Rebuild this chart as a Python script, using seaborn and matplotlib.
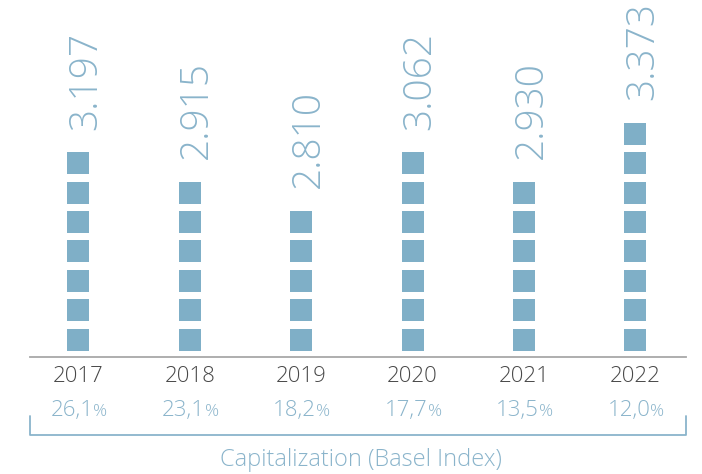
import pandas as pd
import matplotlib.pyplot as plt
import seaborn as sns

sns.set_style("white")
plt.rcParams['font.family'] = ['Open Sans', 'DejaVu Sans']

years = ['2017', '2018', '2019', '2020', '2021', '2022']
values = ['3.197', '2.915', '2.810', '3.062', '2.930', '3.373']
squares = [7, 6, 5, 7, 6, 8]          # number of blocks drawn per year
basel = ['26,1', '23,1', '18,2', '17,7', '13,5', '12,0']

blue = '#7fafc7'
text_blue = '#8ab4cb'
grey = '#484848'

# one row per block
rows = []
for y, n in zip(years, squares):
    for k in range(n):
        rows.append({'year': y, 'level': k})
df = pd.DataFrame(rows)

fig = plt.figure(figsize=(7.02, 4.74), dpi=100)
ax = fig.add_axes([30 / 702, 117 / 474, 656 / 702, 357 / 474])

side = 23 * 72 / 100  # block side in points
sns.scatterplot(data=df, x='year', y='level', marker='s', s=side ** 2,
                color=blue, linewidth=0, ax=ax, legend=False)

ax.set_xlim(-0.435, 5.455)
ax.set_ylim(-0.593, -0.593 + 357 / 29.4)

for side_name in ['top', 'left', 'right']:
    ax.spines[side_name].set_visible(False)
ax.spines['bottom'].set_color('#a8a8a8')
ax.spines['bottom'].set_linewidth(1.3)
ax.set_xticks([])
ax.set_yticks([])
ax.set_xlabel('')
ax.set_ylabel('')

# value labels above the blocks
for i, (v, n) in enumerate(zip(values, squares)):
    ax.annotate(v, xy=(i, n - 1), xytext=(17.5 * 0.72, (11.5 + 22) * 0.72),
                textcoords='offset points', rotation=90, rotation_mode='anchor',
                ha='left', va='baseline', fontsize=28, fontweight='light',
                color=text_blue)

# year labels and Basel index
for i, (yr, b) in enumerate(zip(years, basel)):
    ax.annotate(yr, xy=(i, 0), xycoords=('data', 'axes fraction'),
                xytext=(0, -25 * 0.72), textcoords='offset points',
                ha='center', va='baseline', fontsize=16, fontweight='light',
                color=grey)
    ax.annotate(b, xy=(i, 0), xycoords=('data', 'axes fraction'),
                xytext=(15 * 0.72, -59 * 0.72), textcoords='offset points',
                ha='right', va='baseline', fontsize=16, fontweight='light',
                color=text_blue)
    ax.annotate('%', xy=(i, 0), xycoords=('data', 'axes fraction'),
                xytext=(15 * 0.72, -59 * 0.72), textcoords='offset points',
                ha='left', va='baseline', fontsize=12.5, fontweight='light',
                color=text_blue)

# bracket under the Basel index
yb = -77.5 / 357
yt = -59 / 357
ax.plot([0, 0, 1, 1], [yt, yb, yb, yt], transform=ax.transAxes,
        color=text_blue, lw=1.3, clip_on=False)

ax.text(0.505, -109 / 357, 'Capitalization (Basel Index)', transform=ax.transAxes,
        ha='center', va='baseline', fontsize=17, fontweight='light',
        color=text_blue)

fig.savefig('out.png', dpi=100)
